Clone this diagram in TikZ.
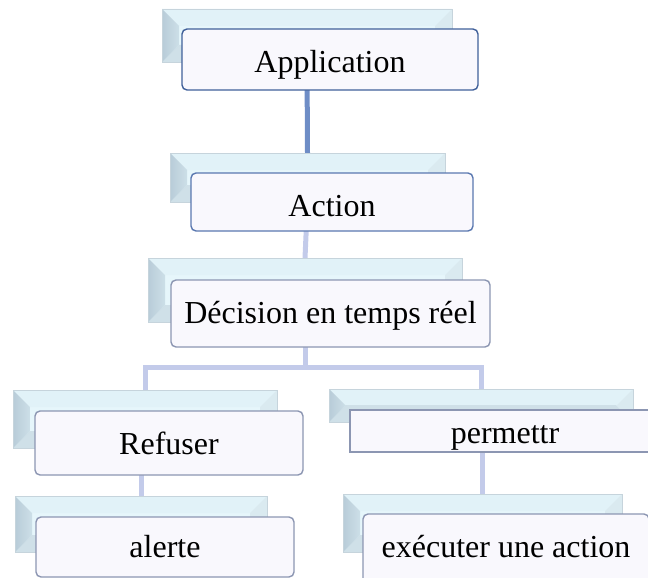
\documentclass[tikz,border=0pt]{standalone}
\usepackage{fontspec}
\setmainfont{Liberation Serif}
\usetikzlibrary{calc,backgrounds}

\definecolor{tabfill}{HTML}{E6F6FB}
\definecolor{tabtop}{HTML}{E1F2F8}
\definecolor{tableft}{HTML}{B8CCD8}
\definecolor{tabright}{HTML}{DAEAF0}
\definecolor{tabbottom}{HTML}{CFE0E8}
\definecolor{tabedge}{HTML}{C6D4DC}
\definecolor{boxfill}{HTML}{F9F8FD}
\definecolor{edgedark}{HTML}{40609A}
\definecolor{edgemid}{HTML}{5A78B0}
\definecolor{edgegray}{HTML}{8C96B2}
\definecolor{linkdark}{HTML}{6E8DC6}
\definecolor{linklight}{HTML}{C3CBEA}

\tikzset{
  % bevelled tab lying behind each box
  tab/.style={rectangle, inner sep=0pt, outer sep=0pt, fill=tabfill,
    draw=tabedge, line width=0.8pt,
    path picture={
      \coordinate (pnw) at (path picture bounding box.north west);
      \coordinate (pne) at (path picture bounding box.north east);
      \coordinate (psw) at (path picture bounding box.south west);
      \coordinate (pse) at (path picture bounding box.south east);
      \fill[tabtop] (pnw) -- (pne) -- ($(pne)+(-17pt,-17pt)$) -- ($(pnw)+(17pt,-17pt)$) -- cycle;
      \fill[tabbottom] (psw) -- (pse) -- ($(pse)+(-17pt,17pt)$) -- ($(psw)+(17pt,17pt)$) -- cycle;
      \fill[tabright] (pne) -- (pse) -- ($(pse)+(-17pt,17pt)$) -- ($(pne)+(-17pt,-17pt)$) -- cycle;
      \shade[left color=tableft, right color=tableft!55!tabfill]
        (pnw) -- (psw) -- ($(psw)+(17pt,17pt)$) -- ($(pnw)+(17pt,-17pt)$) -- cycle;
    }},
  card/.style={rectangle, rounded corners=5pt, fill=boxfill, draw=edgegray,
    line width=1.4pt, inner sep=0pt},
  txt/.style={font=\fontsize{32}{36}\selectfont, inner sep=0pt},
  linkA/.style={draw=linkdark, line width=5pt},
  linkB/.style={draw=linklight, line width=5pt},
}

\begin{document}
\begin{tikzpicture}[x=1pt,y=-1pt]
  \useasboundingbox (0,0) rectangle (648,578);
  \clip (0,0) rectangle (648,578);

  % tabs
  \node[tab, minimum width=290pt, minimum height=53pt] (appB) at (307,35.5) {};
  \node[tab, minimum width=275pt, minimum height=49pt] (actB) at (307.5,177.5) {};
  \node[tab, minimum width=314pt, minimum height=64pt] (decB) at (305,290) {};
  \node[tab, minimum width=264pt, minimum height=58pt] (refB) at (145,419) {};
  \node[tab, minimum width=252pt, minimum height=56pt] (aleB) at (141,524) {};
  \node[tab, minimum width=304pt, minimum height=33pt] (perB) at (481,405.5) {};
  \node[tab, minimum width=279pt, minimum height=58pt] (exeB) at (482.5,523) {};

  % boxes with their captions
  \node[card, draw=edgedark, minimum width=296pt, minimum height=61pt,
        label={[txt, yshift=-5pt]center:Application}] (app) at (330,59.5) {};
  \node[card, draw=edgemid, minimum width=282pt, minimum height=58pt,
        label={[txt, yshift=-4pt]center:Action}] (act) at (332,202) {};
  \node[card, minimum width=319pt, minimum height=67pt,
        label={[txt, yshift=-2pt]center:Décision en temps réel}] (dec) at (330.5,313.5) {};
  \node[card, minimum width=268pt, minimum height=64pt,
        label={[txt]center:Refuser}] (ref) at (169,443) {};
  \node[card, minimum width=258pt, minimum height=60pt,
        label={[txt]center:alerte}] (ale) at (165,547) {};
  \node[card, rounded corners=0pt, minimum width=310pt, minimum height=42pt,
        label={[txt, yshift=-7pt]center:permettr}] (per) at (505,431) {};
  \node[card, minimum width=286pt, minimum height=74pt,
        label={[txt, yshift=4pt]center:exécuter une action}] (exe) at (506,551) {};

  % links, drawn behind everything
  \begin{scope}[on background layer]
    \coordinate (bus) at (0,367);
    \draw[linkA] (appB.south) -- (actB.north);
    \draw[linkB] (actB.south) -- (decB.north);
    \draw[linkB] (decB.south) -- (decB.south |- bus);
    \draw[linkB] (refB.north) -- (refB.north |- bus) -| (perB.north);
    \draw[linkB] (aleB.north) -- (aleB.north |- refB.south);
    \draw[linkB] (exeB.north) -- (exeB.north |- perB.south);
  \end{scope}
\end{tikzpicture}
\end{document}
